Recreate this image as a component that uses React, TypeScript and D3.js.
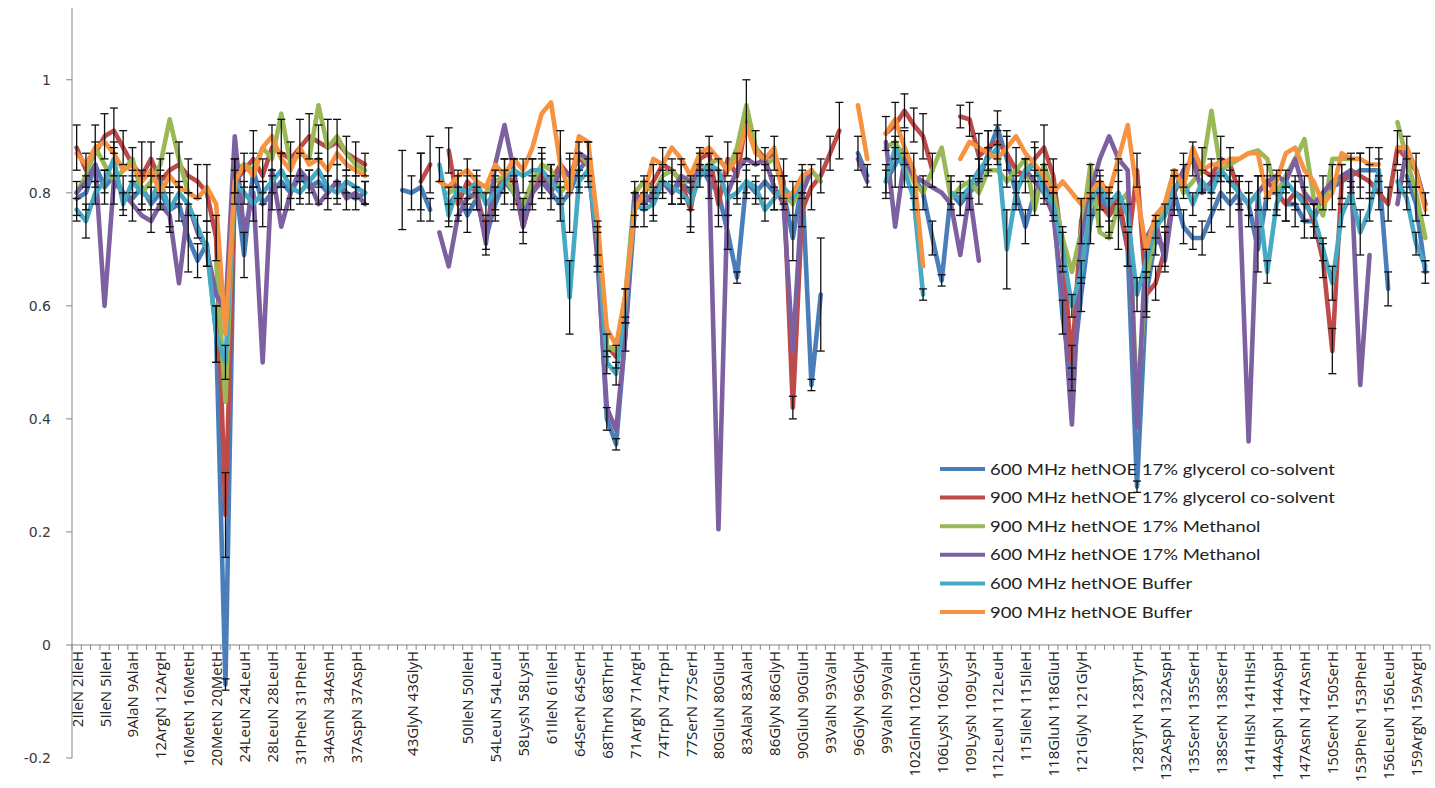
import * as d3 from 'd3';

const WIDTH = 1435;
const HEIGHT = 788;
const NA = null;

const seriesNames = [
  '600 MHz hetNOE 17% glycerol co-solvent',
  '900 MHz hetNOE 17% glycerol co-solvent',
  '900 MHz hetNOE 17% Methanol',
  '600 MHz hetNOE 17% Methanol',
  '600 MHz hetNOE Buffer',
  '900 MHz hetNOE Buffer',
];
const seriesColors = ['#4a7ebb', '#be4b48', '#98b954', '#7d60a0', '#46aac5', '#f69240'];

// one label for every third residue on the axis, blanks where the sheet had none
const LABEL_STEP = 3;
const categoryLabels = [
  '2IleN 2IleH', '5IleN 5IleH', '9AlaN 9AlaH', '12ArgN 12ArgH', '16MetN 16MetH',
  '20MetN 20MetH', '24LeuN 24LeuH', '28LeuN 28LeuH', '31PheN 31PheH', '34AsnN 34AsnH',
  '37AspN 37AspH', '', '43GlyN 43GlyH', '', '50IleN 50IleH', '54LeuN 54LeuH',
  '58LysN 58LysH', '61IleN 61IleH', '64SerN 64SerH', '68ThrN 68ThrH', '71ArgN 71ArgH',
  '74TrpN 74TrpH', '77SerN 77SerH', '80GluN 80GluH', '83AlaN 83AlaH', '86GlyN 86GlyH',
  '90GluN 90GluH', '93ValN 93ValH', '96GlyN 96GlyH', '99ValN 99ValH', '102GlnN 102GlnH',
  '106LysN 106LysH', '109LysN 109LysH', '112LeuN 112LeuH', '115IleN 115IleH',
  '118GluN 118GluH', '121GlyN 121GlyH', '', '128TyrN 128TyrH', '132AspN 132AspH',
  '135SerN 135SerH', '138SerN 138SerH', '141HisN 141HisH', '144AspN 144AspH',
  '147AsnN 147AsnH', '150SerN 150SerH', '153PheN 153PheH', '156LeuN 156LeuH',
  '159ArgN 159ArgH',
];

const yTicks = [-0.2, 0, 0.2, 0.4, 0.6, 0.8, 1];

const blue600Glycerol = [
  0.79, 0.80, 0.85, 0.81, 0.83, 0.80, 0.79, 0.81, 0.78, 0.80,
  0.77, 0.78, 0.72, 0.68, 0.71, 0.55, -0.07, 0.83, 0.69, 0.84,
  0.78, 0.80, 0.82, 0.80, 0.83, 0.81, 0.82, 0.80, 0.82, 0.80,
  0.79, 0.80, NA, NA, NA, 0.805, 0.80, 0.81, 0.77, NA,
  0.78, 0.80, 0.76, 0.79, 0.72, 0.78, 0.82, 0.80, 0.76, 0.82,
  0.84, 0.80, 0.78, 0.80, 0.84, 0.86, 0.70, 0.40, 0.355, 0.55,
  0.77, 0.80, 0.78, 0.82, 0.80, 0.82, 0.80, 0.85, 0.82, 0.80,
  0.73, 0.65, 0.82, 0.80, 0.82, 0.80, 0.80, 0.72, 0.82, 0.46,
  0.62, NA, NA, NA, 0.87, 0.83, NA, 0.82, 0.85, 0.88,
  0.83, 0.80, 0.72, 0.645, 0.80, 0.78, 0.80, 0.82, 0.87, 0.915,
  0.86, 0.80, 0.74, 0.80, 0.82, 0.78, 0.58, 0.47, 0.62, 0.75,
  0.80, 0.76, 0.78, 0.70, 0.28, 0.62, 0.72, 0.70, 0.80, 0.74,
  0.72, 0.72, 0.76, 0.80, 0.78, 0.80, 0.78, 0.70, 0.80, 0.80,
  0.78, 0.78, 0.75, 0.75, 0.80, 0.81, 0.82, 0.83, 0.84, 0.84,
  0.84, 0.63, NA, 0.83, 0.78, 0.66,
];

const red900Glycerol = [
  0.88, 0.84, 0.87, 0.90, 0.91, 0.88, 0.85, 0.83, 0.86, 0.82,
  0.84, 0.85, 0.83, 0.82, 0.80, 0.72, 0.23, 0.82, 0.84, 0.86,
  0.83, 0.88, 0.87, 0.86, 0.88, 0.90, 0.89, 0.88, 0.89, 0.87,
  0.86, 0.85, NA, NA, NA, NA, NA, 0.82, 0.85, NA,
  0.875, 0.78, 0.82, 0.80, 0.73, 0.80, 0.83, 0.82, 0.74, 0.80,
  0.83, 0.82, 0.85, 0.83, 0.86, 0.85, 0.70, 0.53, 0.51, 0.60,
  0.78, 0.80, 0.82, 0.85, 0.84, 0.82, 0.77, 0.86, 0.87, 0.78,
  0.86, 0.83, 0.93, 0.88, 0.86, 0.87, 0.82, 0.42, 0.77, 0.81,
  0.83, 0.87, 0.91, NA, NA, NA, NA, 0.905, 0.92, 0.945,
  0.92, 0.90, 0.84, NA, NA, 0.935, 0.93, 0.865, 0.88, 0.89,
  0.87, 0.84, 0.83, 0.86, 0.88, 0.83, 0.70, 0.50, 0.75, 0.82,
  0.78, 0.76, 0.80, 0.70, 0.84, 0.62, 0.64, 0.70, 0.80, 0.84,
  0.86, 0.84, 0.83, 0.86, 0.85, 0.80, 0.78, 0.80, 0.82, 0.80,
  0.78, 0.80, 0.79, 0.75, 0.68, 0.52, 0.82, 0.84, 0.83, 0.82,
  0.80, 0.78, 0.88, 0.86, 0.84, 0.78,
];

const green900Methanol = [
  0.80, 0.83, 0.88, 0.85, 0.82, 0.84, 0.86, 0.80, 0.82, 0.85,
  0.93, 0.86, 0.80, NA, NA, 0.68, 0.43, 0.84, 0.85, 0.84,
  0.88, 0.86, 0.94, 0.85, 0.87, 0.86, 0.955, 0.88, 0.90, 0.87,
  0.85, 0.84, NA, NA, NA, NA, NA, NA, NA, NA,
  0.80, 0.81, 0.80, 0.79, 0.80, 0.82, 0.83, 0.80, 0.78, 0.82,
  0.85, 0.84, 0.80, 0.82, 0.87, 0.85, 0.72, 0.53, 0.52, 0.62,
  0.80, 0.82, 0.80, 0.83, 0.84, 0.82, 0.82, 0.84, 0.85, 0.86,
  0.84, 0.88, 0.955, 0.88, 0.85, 0.86, 0.80, 0.78, 0.82, 0.84,
  0.82, NA, NA, NA, NA, NA, NA, 0.88, 0.89, 0.86,
  0.82, 0.80, 0.84, 0.88, 0.79, 0.81, 0.82, 0.80, 0.84, 0.84,
  0.82, 0.84, 0.86, 0.77, 0.85, 0.80, 0.72, 0.66, 0.73, 0.85,
  0.73, 0.72, 0.78, 0.80, 0.43, 0.65, 0.73, 0.78, 0.84, 0.80,
  0.82, 0.84, 0.945, 0.84, 0.85, 0.86, 0.87, 0.875, 0.86, 0.80,
  0.83, 0.86, 0.895, 0.79, 0.76, 0.86, 0.86, 0.86, NA, NA,
  NA, NA, 0.925, 0.86, 0.80, 0.72,
];

const purple600Methanol = [
  0.80, 0.82, 0.85, 0.60, 0.82, 0.80, 0.78, 0.76, 0.75, 0.78,
  0.76, 0.64, 0.78, 0.73, 0.70, 0.62, 0.59, 0.90, 0.73, 0.80,
  0.50, 0.84, 0.74, 0.80, 0.84, 0.82, 0.78, 0.80, 0.82, 0.79,
  0.80, 0.78, NA, NA, NA, NA, NA, NA, NA, 0.73,
  0.67, 0.76, 0.79, 0.80, 0.71, 0.85, 0.92, 0.84, 0.74, 0.80,
  0.82, 0.80, 0.84, 0.83, 0.87, 0.86, 0.68, 0.42, 0.38, 0.55,
  0.80, 0.78, 0.80, 0.82, 0.80, 0.83, 0.82, 0.84, 0.84, 0.205,
  0.80, 0.84, 0.86, 0.85, 0.86, 0.81, 0.78, 0.52, 0.80, 0.84,
  NA, NA, NA, NA, 0.86, 0.82, NA, 0.89, 0.74, 0.86,
  0.83, 0.82, 0.81, 0.80, 0.78, 0.69, 0.80, 0.68, NA, NA,
  NA, 0.80, 0.84, 0.82, 0.80, 0.76, 0.62, 0.39, 0.72, 0.80,
  0.86, 0.90, 0.86, 0.84, 0.385, 0.72, 0.75, 0.68, 0.80, 0.84,
  0.86, 0.80, 0.82, 0.84, 0.82, 0.80, 0.36, 0.80, 0.82, 0.83,
  0.82, 0.86, 0.80, 0.78, 0.80, 0.82, 0.83, 0.84, 0.46, 0.69,
  NA, NA, 0.78, 0.88, 0.84, 0.78,
];

const aqua600Buffer = [
  0.77, 0.75, 0.80, 0.82, 0.86, 0.78, 0.82, 0.80, 0.79, 0.82,
  0.77, 0.80, 0.78, 0.74, 0.70, 0.55, 0.50, 0.82, 0.80, 0.78,
  0.80, 0.82, 0.84, 0.81, 0.80, 0.82, 0.84, 0.81, 0.80, 0.82,
  0.81, 0.80, NA, NA, NA, NA, NA, NA, NA, 0.85,
  0.76, 0.81, 0.80, 0.82, 0.78, 0.80, 0.82, 0.84, 0.83, 0.84,
  0.84, 0.82, 0.80, 0.615, 0.82, 0.84, 0.72, 0.50, 0.48, 0.60,
  0.78, 0.77, 0.78, 0.82, 0.81, 0.80, 0.78, 0.83, 0.85, 0.84,
  0.79, 0.80, 0.82, 0.81, 0.77, 0.79, 0.81, 0.79, 0.82, NA,
  NA, NA, NA, NA, NA, NA, NA, 0.82, 0.88, 0.84,
  0.79, 0.62, NA, NA, 0.80, 0.79, 0.81, 0.84, 0.86, 0.88,
  0.70, 0.80, 0.84, 0.85, 0.80, 0.78, 0.70, 0.60, 0.66, 0.78,
  0.82, 0.78, 0.80, 0.76, 0.62, 0.68, 0.74, 0.76, 0.81, 0.82,
  0.78, 0.82, 0.80, 0.84, 0.82, 0.80, 0.78, 0.80, 0.66, 0.78,
  0.82, 0.80, 0.78, 0.76, 0.70, 0.64, 0.76, 0.80, 0.73, 0.77,
  0.84, NA, 0.82, 0.79, 0.71, 0.67,
];

const orange900Buffer = [
  0.87, 0.85, 0.88, 0.89, 0.87, 0.84, 0.85, 0.82, 0.84, 0.80,
  0.83, 0.81, 0.80, 0.79, 0.81, 0.78, 0.55, 0.82, 0.85, 0.83,
  0.88, 0.90, 0.86, 0.84, 0.88, 0.85, 0.86, 0.84, 0.87, 0.85,
  0.84, 0.83, NA, NA, NA, NA, NA, NA, NA, 0.82,
  0.81, 0.83, 0.84, 0.82, 0.81, 0.85, 0.83, 0.86, 0.84, 0.88,
  0.94, 0.96, 0.85, 0.80, 0.90, 0.89, 0.75, 0.56, 0.53, 0.62,
  0.77, 0.80, 0.86, 0.85, 0.88, 0.86, 0.83, 0.87, 0.88, 0.86,
  0.84, 0.86, 0.92, 0.87, 0.86, 0.88, 0.79, 0.80, 0.83, 0.84,
  NA, NA, NA, NA, 0.955, 0.86, NA, 0.905, 0.93, 0.88,
  0.84, 0.67, NA, NA, NA, 0.86, 0.89, 0.88, 0.87, 0.86,
  0.88, 0.90, 0.87, 0.85, 0.83, 0.80, 0.82, 0.80, 0.78, 0.80,
  0.82, 0.80, 0.86, 0.92, 0.80, 0.70, 0.76, 0.78, 0.84, 0.81,
  0.88, 0.84, 0.85, 0.85, 0.86, 0.86, 0.87, 0.87, 0.79, 0.82,
  0.87, 0.88, 0.84, 0.82, 0.78, 0.80, 0.87, 0.86, 0.86, 0.85,
  0.85, NA, 0.88, 0.88, 0.84, 0.77,
];

// +/- error values, same order as the residues
const blueErr = [
  0.03, 0.03, 0.04, 0.03, 0.05, 0.03, 0.04, 0.03, 0.05, 0.03,
  0.04, 0.03, 0.06, 0.03, 0.04, 0.05, 0.01, 0.03, 0.04, 0.03,
  0.04, 0.03, 0.05, 0.03, 0.04, 0.03, 0.04, 0.03, 0.03, 0.03,
  0.02, 0.02, NA, NA, NA, 0.07, 0.03, 0.06, 0.02, NA,
  0.03, 0.04, 0.03, 0.02, 0.03, 0.03, 0.04, 0.03, 0.03, 0.04,
  0.04, 0.03, 0.03, 0.07, 0.03, 0.03, 0.04, 0.02, 0.01, 0.03,
  0.03, 0.02, 0.03, 0.03, 0.02, 0.03, 0.03, 0.02, 0.03, 0.04,
  0.03, 0.01, 0.03, 0.02, 0.03, 0.03, 0.03, 0.04, 0.03, 0.01,
  0.10, NA, NA, NA, 0.03, 0.02, NA, 0.03, 0.04, 0.03,
  0.04, 0.03, 0.03, 0.01, 0.03, 0.02, 0.03, 0.04, 0.04, 0.03,
  0.05, 0.03, 0.03, 0.04, 0.03, 0.03, 0.03, 0.02, 0.03, 0.04,
  0.03, 0.04, 0.08, 0.03, 0.01, 0.03, 0.03, 0.03, 0.04, 0.03,
  0.02, 0.03, 0.03, 0.03, 0.04, 0.03, 0.02, 0.04, 0.03, 0.03,
  0.03, 0.04, 0.03, 0.03, 0.03, 0.04, 0.03, 0.03, 0.03, 0.04,
  0.04, 0.03, NA, 0.03, 0.03, 0.02,
];

const redErr = [
  0.04, 0.03, 0.05, 0.04, 0.04, 0.03, 0.03, 0.06, 0.03, 0.04,
  0.03, 0.04, 0.03, 0.03, 0.05, 0.04, 0.075, 0.04, 0.03, 0.05,
  0.03, 0.04, 0.06, 0.03, 0.05, 0.04, 0.03, 0.05, 0.04, 0.03,
  0.03, 0.02, NA, NA, NA, NA, NA, 0.05, 0.05, NA,
  0.04, 0.03, 0.04, 0.03, 0.03, 0.04, 0.03, 0.04, 0.03, 0.03,
  0.04, 0.03, 0.06, 0.03, 0.03, 0.04, 0.03, 0.02, 0.02, 0.03,
  0.04, 0.03, 0.03, 0.03, 0.02, 0.04, 0.04, 0.02, 0.03, 0.04,
  0.03, 0.04, 0.07, 0.03, 0.02, 0.03, 0.04, 0.02, 0.03, 0.04,
  0.03, 0.03, 0.05, NA, NA, NA, NA, 0.03, 0.04, 0.03,
  0.03, 0.04, 0.03, NA, NA, 0.02, 0.03, 0.04, 0.03, 0.03,
  0.03, 0.04, 0.03, 0.03, 0.04, 0.03, 0.04, 0.03, 0.04, 0.03,
  0.04, 0.03, 0.04, 0.03, 0.03, 0.04, 0.03, 0.04, 0.03, 0.03,
  0.03, 0.04, 0.03, 0.04, 0.03, 0.03, 0.04, 0.03, 0.03, 0.04,
  0.03, 0.03, 0.04, 0.03, 0.03, 0.04, 0.03, 0.03, 0.04, 0.03,
  0.03, 0.03, 0.03, 0.04, 0.03, 0.02,
];

const aquaErr = [
  0.02, 0.03, 0.02, 0.02, 0.03, 0.02, 0.02, 0.03, 0.02, 0.02,
  0.03, 0.02, 0.02, 0.02, 0.03, 0.05, 0.03, 0.02, 0.02, 0.03,
  0.02, 0.02, 0.03, 0.02, 0.02, 0.02, 0.03, 0.02, 0.02, 0.02,
  0.02, 0.02, NA, NA, NA, NA, NA, NA, NA, 0.03,
  0.02, 0.02, 0.03, 0.02, 0.02, 0.03, 0.02, 0.02, 0.03, 0.02,
  0.02, 0.03, 0.02, 0.065, 0.02, 0.02, 0.03, 0.02, 0.02, 0.03,
  0.02, 0.03, 0.02, 0.02, 0.03, 0.02, 0.04, 0.02, 0.02, 0.02,
  0.03, 0.02, 0.02, 0.02, 0.02, 0.02, 0.02, 0.03, 0.02, NA,
  NA, NA, NA, NA, NA, NA, NA, 0.02, 0.02, 0.03,
  0.02, 0.01, NA, NA, 0.02, 0.03, 0.02, 0.02, 0.02, 0.03,
  0.07, 0.02, 0.02, 0.03, 0.02, 0.02, 0.03, 0.02, 0.02, 0.02,
  0.02, 0.03, 0.02, 0.02, 0.03, 0.02, 0.02, 0.02, 0.02, 0.03,
  0.02, 0.02, 0.03, 0.02, 0.02, 0.02, 0.02, 0.03, 0.02, 0.02,
  0.02, 0.02, 0.03, 0.02, 0.02, 0.03, 0.02, 0.02, 0.04, 0.02,
  0.02, NA, 0.02, 0.02, 0.02, 0.01,
];

const seriesValues = [
  blue600Glycerol,
  red900Glycerol,
  green900Methanol,
  purple600Methanol,
  aqua600Buffer,
  orange900Buffer,
];
const errorSets = [
  { values: blue600Glycerol, errors: blueErr },
  { values: red900Glycerol, errors: redErr },
  { values: aqua600Buffer, errors: aquaErr },
];

const plot = { left: 72, right: 1430, top: 8, bottom: 758 };

export default function App() {
  const n = blue600Glycerol.length;
  const x = d3.scaleBand<number>().domain(d3.range(n)).range([plot.left, plot.right]);
  const cx = (i: number) => (x(i) ?? 0) + x.bandwidth() / 2;
  const y = d3.scaleLinear().domain([-0.2, 1.127]).range([plot.bottom, plot.top]);
  const y0 = y(0);

  const line = d3
    .line<number | null>()
    .defined((d) => d != null)
    .x((_, i) => cx(i))
    .y((d) => y(d as number));

  const axisColor = '#868686';

  return (
    <svg
      width={WIDTH}
      height={HEIGHT}
      style={{ position: 'absolute', left: 0, top: 0, background: '#fff' }}
    >
      <defs>
        <filter id="soft" x="-5%" y="-5%" width="110%" height="110%">
          <feGaussianBlur stdDeviation="0.45" />
        </filter>
      </defs>

      {/* y axis */}
      <line x1={plot.left} x2={plot.left} y1={plot.top} y2={plot.bottom} stroke={axisColor} />
      {yTicks.map((t) => (
        <g key={t} transform={`translate(0, ${y(t)})`}>
          <line x1={plot.left - 6} x2={plot.left} stroke={axisColor} />
          <text
            x={51}
            dy="0.35em"
            textAnchor="end"
            fontFamily="DejaVu Sans"
            fontSize={14}
            fill="#3a3a3a"
          >
            {t}
          </text>
        </g>
      ))}

      {/* x axis at zero */}
      <line x1={plot.left} x2={plot.right} y1={y0} y2={y0} stroke={axisColor} />
      {d3.range(n + 1).map((i) => {
        const tx = plot.left + i * x.bandwidth();
        return <line key={i} x1={tx} x2={tx} y1={y0} y2={y0 + 5} stroke={axisColor} />;
      })}
      {categoryLabels.map((label, k) =>
        label ? (
          <text
            key={k}
            transform={`translate(${cx(k * LABEL_STEP)}, ${y0 + 6}) rotate(-90)`}
            textAnchor="end"
            dominantBaseline="central"
            fontFamily="Open Sans"
            fontSize={15}
            fill="#222"
          >
            {label}
          </text>
        ) : null
      )}

      {/* series lines */}
      <g filter="url(#soft)">
        {seriesValues.map((vals, s) => (
          <path
            key={s}
            d={line(vals) ?? ''}
            fill="none"
            stroke={seriesColors[s]}
            strokeWidth={4.6}
            strokeLinejoin="round"
            strokeLinecap="round"
          />
        ))}
      </g>

      {/* error bars */}
      {errorSets.map(({ values, errors }, s) => (
        <g key={s} stroke="#111" strokeWidth={1.3}>
          {values.map((v, i) => {
            const e = errors[i];
            if (v == null || e == null) return null;
            const px = cx(i);
            const hi = y(v + e);
            const lo = y(v - e);
            return (
              <g key={i}>
                <line x1={px} x2={px} y1={hi} y2={lo} />
                <line x1={px - 4} x2={px + 4} y1={hi} y2={hi} />
                <line x1={px - 4} x2={px + 4} y1={lo} y2={lo} />
              </g>
            );
          })}
        </g>
      ))}

      {/* legend */}
      <g transform="translate(940, 469)">
        {seriesNames.map((name, s) => (
          <g key={name} transform={`translate(0, ${s * 28.6})`}>
            <line x1={0} x2={45} stroke={seriesColors[s]} strokeWidth={4} />
            <text
              x={50}
              dy="0.35em"
              fontFamily="Lato"
              fontSize={16}
              fill="#222"
              transform="scale(1.155, 1)"
              style={{ transformOrigin: '50px 0px' }}
            >
              {name}
            </text>
          </g>
        ))}
      </g>
    </svg>
  );
}
